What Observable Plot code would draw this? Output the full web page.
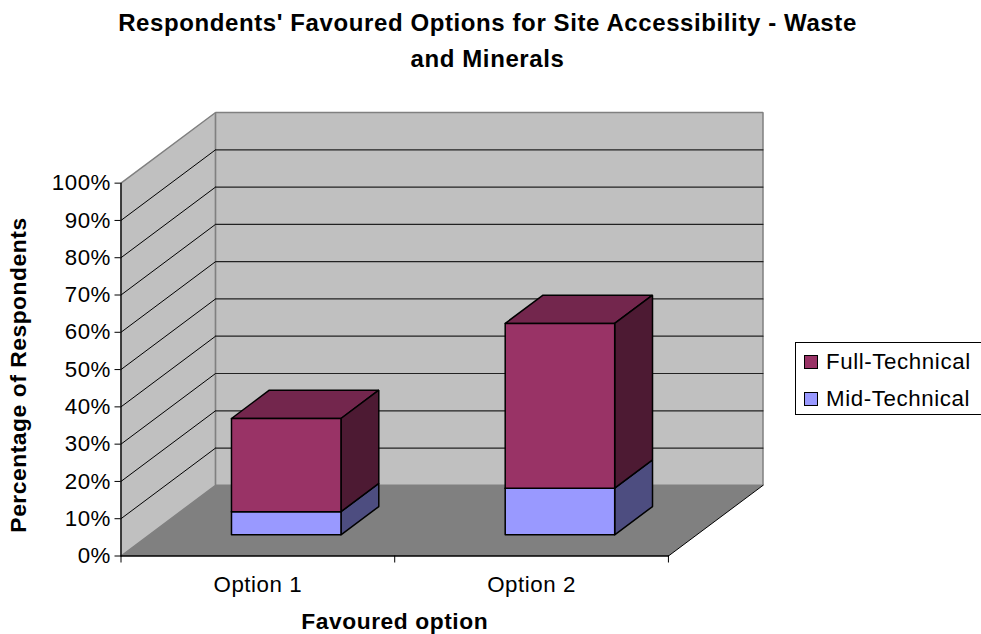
<!DOCTYPE html>
<html>
<head>
<meta charset="utf-8">
<script src="https://cdn.jsdelivr.net/npm/d3@7"></script>
<script src="https://cdn.jsdelivr.net/npm/@observablehq/plot@0.6"></script>
<style>
html,body{margin:0;padding:0;background:#fff}
body{position:relative;width:981px;height:634px;overflow:hidden;font-family:"Liberation Sans",Arial,sans-serif}
#title{height:100px;box-sizing:border-box;padding-top:5px;width:975px;text-align:center;font-weight:bold;font-size:24px;letter-spacing:0.6px;line-height:36px;color:#000}
#title div{white-space:nowrap}
#legend{position:absolute;left:795px;top:342px;width:186px;height:73px;box-sizing:border-box;border:1px solid #000;border-right:none;background:#fff;font-size:22.3px;letter-spacing:0.6px;color:#000}
.row{position:absolute;left:8px;display:flex;align-items:center;white-space:nowrap}
.sw{display:inline-block;width:12px;height:12px;border:1.5px solid #000;margin-right:8px}
svg{display:block}
</style>
</head>
<body>
<div id="title"><div>Respondents' Favoured Options for Site Accessibility - Waste</div><div>and Minerals</div></div>
<div id="chart"></div>
<div id="legend"></div>
<script>
const categories = ["Option 1", "Option 2"];
const seriesNames = ["Mid-Technical", "Full-Technical"];
const midTechnical = [6.2, 12.5];
const fullTechnical = [25, 44.2];
const percentTicks = [0, 10, 20, 30, 40, 50, 60, 70, 80, 90, 100];
const gridValues = [10, 20, 30, 40, 50, 60, 70, 80, 90];

const colors = {
  mid: {front: "#9999ff", side: "#4d4d80", top: "#7373bf"},
  full: {front: "#993366", side: "#4d1a33", top: "#73264d"}
};
const wallColor = "#c0c0c0", floorColor = "#808080";

// oblique projection: depth d in 0..1 shifts a point up and to the right, in data units
const depthX = 0.3455, depthY = 18.95;
const P = (x, v, d = 0) => ({x: x + d * depthX, y: v + d * depthY});
const N = categories.length, maxV = 100;

const poly = (pts, fill, stroke, sw = 1.5) =>
  Plot.line([...pts, pts[0]], {x: "x", y: "y", fill, stroke, strokeWidth: sw, strokeLinejoin: "miter", curve: "linear"});
const seg = (a, b, stroke, sw = 1) =>
  Plot.line([a, b], {x: "x", y: "y", stroke, strokeWidth: sw});

function box(x0, x1, v0, v1, d0, d1, c) {
  return [
    poly([P(x0, v1, d0), P(x1, v1, d0), P(x1, v1, d1), P(x0, v1, d1)], c.top, "#000"),
    poly([P(x1, v0, d0), P(x1, v0, d1), P(x1, v1, d1), P(x1, v1, d0)], c.side, "#000"),
    poly([P(x0, v0, d0), P(x1, v0, d0), P(x1, v1, d0), P(x0, v1, d0)], c.front, "#000")
  ];
}

const barMarks = categories.flatMap((_, i) => {
  const x0 = i + 0.3, x1 = i + 0.7, d0 = 0.3, d1 = 0.7;
  return [
    ...box(x0, x1, 0, midTechnical[i], d0, d1, colors.mid),
    ...box(x0, x1, midTechnical[i], midTechnical[i] + fullTechnical[i], d0, d1, colors.full)
  ];
});

const chart = Plot.plot({
  width: 981,
  height: 534,
  marginTop: 0, marginBottom: 0, marginLeft: 0, marginRight: 0,
  style: {fontFamily: '"Liberation Sans",Arial,sans-serif', background: "#fff", color: "#000", letterSpacing: "0.55px"},
  x: {type: "linear", domain: [0, N + depthX], range: [120.5, 762.5]},
  y: {type: "linear", domain: [0, maxV + depthY], range: [455.5, 12]},
  marks: [
    // walls
    poly([P(0, 0, 0), P(0, 0, 1), P(0, maxV, 1), P(0, maxV, 0)], wallColor, "#808080", 1.5),
    poly([P(0, 0, 1), P(N, 0, 1), P(N, maxV, 1), P(0, maxV, 1)], wallColor, "#808080", 1.5),
    // gridlines on the side and back walls
    ...gridValues.flatMap(v => [
      seg(P(0, v, 0), P(0, v, 1), "#000", 1),
      seg(P(0, v, 1), P(N, v, 1), "#222", 1.2)
    ]),
    // floor
    poly([P(0, 0, 0), P(N, 0, 0), P(N, 0, 1), P(0, 0, 1)], floorColor, "none"),
    seg(P(0, 0, 0), P(N, 0, 0), "#000", 1.3),
    seg(P(N, 0, 0), P(N, 0, 1), "#000", 1),
    seg(P(0, 0, 0), P(0, maxV, 0), "#000", 1.2),
    ...barMarks,
    // axes
    Plot.axisY({ticks: percentTicks, tickFormat: d => d + "%", tickSize: 6, tickPadding: 4,
      fontSize: 22.3, label: null, x: 0}),
    Plot.axisX({ticks: d3.range(N + 1), tickFormat: () => "", tickSize: 7, label: null, y: 0}),
    Plot.text(categories, {x: (_, i) => i + 0.5, y: () => 0, text: d => d, dy: 29, fontSize: 22.3}),
    Plot.text(["Favoured option"], {x: () => 1, y: () => 0, text: d => d, dy: 66, fontSize: 22.8, fontWeight: "bold"}),
    Plot.text(["Percentage of Respondents"], {frameAnchor: "left", textAnchor: "middle", dx: 18, dy: 7.5, rotate: -90, text: d => d, fontSize: 22.8, fontWeight: "bold"})
  ]
});
document.getElementById("chart").append(chart);

const legend = document.getElementById("legend");
[[seriesNames[1], colors.full.front, 5.5], [seriesNames[0], colors.mid.front, 43]].forEach(([name, col, rowTop]) => {
  const r = document.createElement("div");
  r.className = "row";
  r.style.top = rowTop + "px";
  const s = document.createElement("span");
  s.className = "sw";
  s.style.background = col;
  r.append(s, document.createTextNode(name));
  legend.append(r);
});
</script>
</body>
</html>
